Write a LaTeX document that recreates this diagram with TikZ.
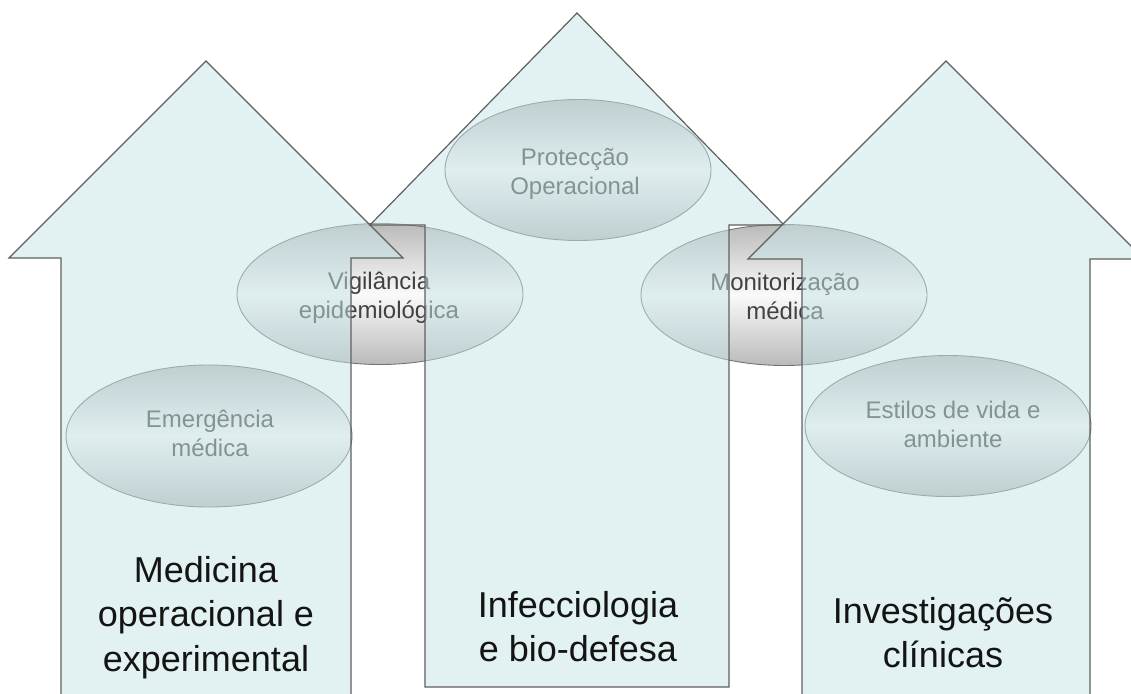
\documentclass[tikz,border=0pt]{standalone}
\usepackage{fontspec}
\setmainfont{Liberation Sans}
\usetikzlibrary{shapes.geometric}
\definecolor{arrowfill}{RGB}{198,227,230}
\definecolor{arrowline}{RGB}{95,95,95}
\definecolor{ovalline}{RGB}{115,115,115}
\definecolor{ovaltext}{RGB}{65,65,65}
\definecolor{titletext}{RGB}{20,20,20}
\newcommand{\mlines}[1]{\begin{tabular}[t]{@{}c@{}}#1\end{tabular}}
\begin{document}
\begin{tikzpicture}[x=1pt,y=-1pt,
  oval/.style={ellipse, draw=ovalline, line width=0.9pt,
    top color=black!27, bottom color=black!27, middle color=black!2,
    minimum width=286pt, minimum height=141pt, inner sep=0pt},
  ovaltxt/.style={anchor=base, inner sep=0pt, text=ovaltext,
    font=\fontsize{24}{29.5}\selectfont},
  bigarrow/.style={fill=arrowfill, fill opacity=0.5, draw=arrowline,
    draw opacity=1, line width=1.2pt, line join=miter},
  titletxt/.style={anchor=base, inner sep=0pt, text=titletext,
    font=\fontsize{36}{44.5}\selectfont}]
\useasboundingbox (0,0) rectangle (1131,693);
\clip (0,0) rectangle (1131,693);
% ovals (drawn beneath the translucent arrows)
\node[oval, minimum width=266pt] (prot) at (578,170) {};
\node[oval] (vig) at (380,294) {};
\node[oval] (mon) at (784,295) {};
\node[oval, minimum height=142pt] (emer) at (209,436) {};
\node[oval] (est) at (948,426) {};
\node[ovaltxt] (prottxt) at (575,165) {\mlines{Protecção\\Operacional}};
\node[ovaltxt] (vigtxt) at (379,289) {\mlines{Vigilância\\epidemiológica}};
\node[ovaltxt] (montxt) at (785,290) {\mlines{Monitorização\\médica}};
\node[ovaltxt] (emertxt) at (210,427) {\mlines{Emergência\\médica}};
\node[ovaltxt] (esttxt) at (953,418) {\mlines{Estilos de vida e\\ambiente}};
% arrows
\draw[bigarrow] (61,705) -- (61,258) -- (9,258) -- (206,61) -- (403,258)
  -- (351,258) -- (351,705) -- cycle;
\draw[bigarrow] (425,687) -- (425,225) -- (370,225) -- (577,13) -- (784,225)
  -- (729,225) -- (729,687) -- cycle;
\draw[bigarrow] (802,705) -- (802,259) -- (748,259) -- (946,61) -- (1144,259)
  -- (1090,259) -- (1090,705) -- cycle;
% titles
\node[titletxt] (med) at (206,582) {\mlines{Medicina\\operacional e\\experimental}};
\node[titletxt] (inf) at (578,617) {\mlines{Infecciologia\\e bio-defesa}};
\node[titletxt] (inv) at (943,623) {\mlines{Investigações\\clínicas}};
\end{tikzpicture}
\end{document}
